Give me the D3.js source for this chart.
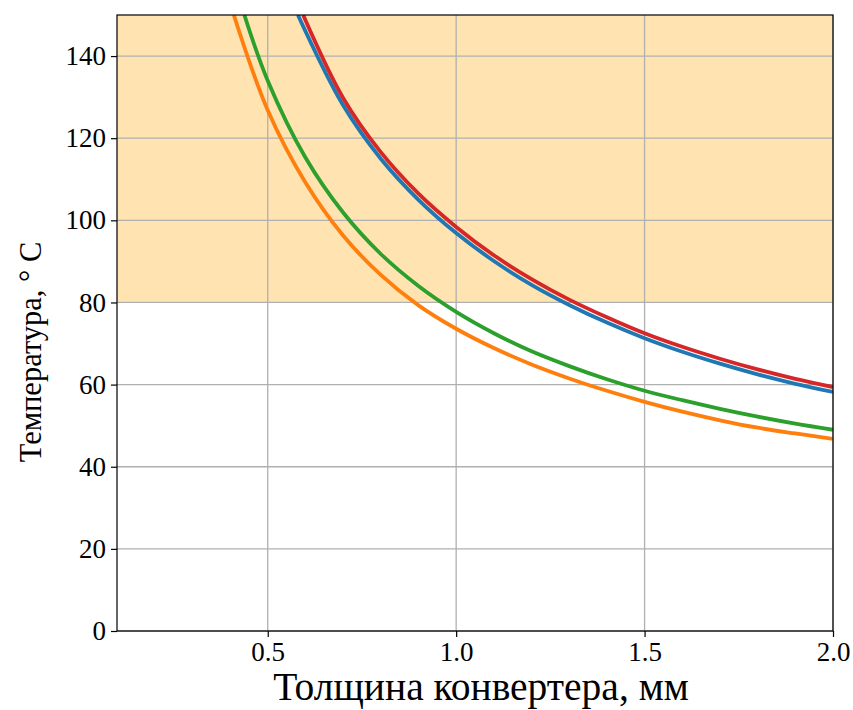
<!DOCTYPE html>
<html>
<head>
<meta charset="utf-8">
<script src="https://cdn.jsdelivr.net/npm/d3@7"></script>
<style>
  body { margin: 0; background: #fff; }
  svg { display: block; font-family: 'Liberation Serif', 'Times New Roman', serif; }
</style>
</head>
<body>
<svg id="chart"></svg>
<script>
// thickness (mm) / temperature (C); the first point of each
// series is where the curve leaves the top of the plot
const thickness = [0.5, 0.6, 0.7, 0.8, 0.9, 1.0, 1.1, 1.2, 1.3, 1.4, 1.5, 1.6, 1.7, 1.8, 1.9, 2.0];

const blueD = [0.58, 0.7, 0.8, 0.9, 1.0, 1.1, 1.2, 1.3, 1.4, 1.5, 1.6, 1.7, 1.8, 1.9, 2.0];
const blueT = [150, 128.0, 115.0, 105.0, 96.9, 90.1, 84.3, 79.4, 75.1, 71.3, 68.0, 65.1, 62.5, 60.2, 58.2];

const orangeD = [0.41].concat(thickness);
const orangeT = [150, 126.8, 109.2, 96.3, 86.7, 79.3, 73.6, 68.9, 64.9, 61.5, 58.5, 55.8, 53.4, 51.3, 49.5, 48.1, 46.8];

const greenD = [0.438].concat(thickness);
const greenT = [150, 134.0, 115.3, 101.9, 91.8, 84.0, 77.7, 72.5, 68.1, 64.5, 61.3, 58.5, 56.2, 54.1, 52.2, 50.5, 49.0];

const redD = [0.594, 0.7, 0.8, 0.9, 1.0, 1.1, 1.2, 1.3, 1.4, 1.5, 1.6, 1.7, 1.8, 1.9, 2.0];
const redT = [150, 129.8, 116.6, 106.5, 98.4, 91.5, 85.7, 80.7, 76.4, 72.5, 69.2, 66.3, 63.7, 61.4, 59.4];

const xTicks = [0.5, 1.0, 1.5, 2.0];
const yTicks = [0, 20, 40, 60, 80, 100, 120, 140];
const hotZone = [80, 150];

const width = 853;
const height = 710;
const margin = { top: 15, right: 20, bottom: 79, left: 117 };

const svg = d3.select('#chart').attr('width', width).attr('height', height);

const x = d3.scaleLinear().domain([0.1, 2.0]).range([margin.left, width - margin.right]);
const y = d3.scaleLinear().domain([0, 150]).range([height - margin.bottom, margin.top]);

svg.append('defs').append('clipPath').attr('id', 'clip')
  .append('rect')
  .attr('x', x(0.1)).attr('y', y(150))
  .attr('width', x(2.0) - x(0.1)).attr('height', y(0) - y(150));

// shaded region above 80 C
svg.append('rect')
  .attr('x', x(0.1))
  .attr('y', y(hotZone[1]))
  .attr('width', x(2.0) - x(0.1))
  .attr('height', y(hotZone[0]) - y(hotZone[1]))
  .attr('fill', 'rgba(255,165,0,0.3)');

// grid
svg.append('g').selectAll('line').data(xTicks).enter().append('line')
  .attr('x1', d => x(d)).attr('x2', d => x(d))
  .attr('y1', y(0)).attr('y2', y(150))
  .attr('stroke', '#b0b0b0').attr('stroke-width', 1.3);
svg.append('g').selectAll('line').data(yTicks).enter().append('line')
  .attr('x1', x(0.1)).attr('x2', x(2.0))
  .attr('y1', d => y(d)).attr('y2', d => y(d))
  .attr('stroke', '#b0b0b0').attr('stroke-width', 1.3);

const series = [
  { d: blueD, t: blueT, color: '#1f77b4' },
  { d: orangeD, t: orangeT, color: '#ff7f0e' },
  { d: greenD, t: greenT, color: '#2ca02c' },
  { d: redD, t: redT, color: '#d62728' },
];

const line = d3.line()
  .x(p => x(p[0]))
  .y(p => y(p[1]))
  .curve(d3.curveCatmullRom.alpha(0.5));

const plot = svg.append('g').attr('clip-path', 'url(#clip)');
series.forEach(s => {
  plot.append('path')
    .datum(s.d.map((v, i) => [v, s.t[i]]))
    .attr('d', line)
    .attr('fill', 'none')
    .attr('stroke', s.color)
    .attr('stroke-width', 3.8);
});

// frame
svg.append('rect')
  .attr('x', x(0.1)).attr('y', y(150))
  .attr('width', x(2.0) - x(0.1)).attr('height', y(0) - y(150))
  .attr('fill', 'none').attr('stroke', '#000').attr('stroke-width', 1.2);

const xAxis = svg.append('g')
  .attr('transform', 'translate(0,' + y(0) + ')')
  .call(d3.axisBottom(x).tickValues(xTicks).tickFormat(d3.format('.1f')).tickSize(6).tickPadding(5));
const yAxis = svg.append('g')
  .attr('transform', 'translate(' + x(0.1) + ',0)')
  .call(d3.axisLeft(y).tickValues(yTicks).tickSize(6).tickPadding(5));

[xAxis, yAxis].forEach(a => {
  a.select('.domain').remove();
  a.attr('font-family', null);
  a.selectAll('text').attr('fill', '#000')
    .style('font-size', '27px')
    .style('font-family', "'Liberation Serif', serif");
  a.selectAll('line').attr('stroke', '#000').attr('stroke-width', 1.2);
});

svg.append('text')
  .attr('x', 481)
  .attr('y', 700)
  .attr('text-anchor', 'middle')
  .style('font-size', '39.5px')
  .text('Толщина конвертера, мм');

svg.append('text')
  .attr('transform', 'translate(41,' + 352 + ') rotate(-90)')
  .attr('text-anchor', 'middle')
  .style('font-size', '30.5px')
  .text('Температура, ° C');
</script>
</body>
</html>
